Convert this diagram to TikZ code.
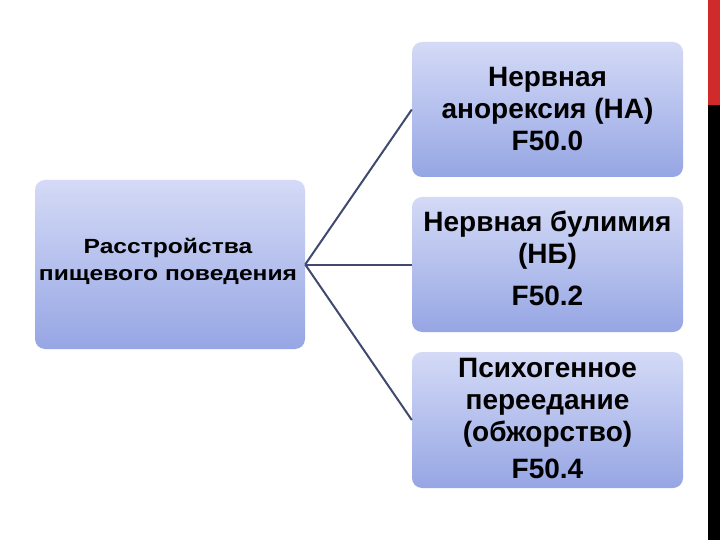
\documentclass[tikz,border=0pt]{standalone}
\usepackage{fontspec}
\setmainfont{Liberation Sans}
\newfontfamily\widefont[FakeStretch=1.2]{Liberation Sans}
\definecolor{boxtop}{RGB}{212,218,246}
\definecolor{boxbot}{RGB}{150,166,228}
\definecolor{linkc}{RGB}{64,74,110}
\definecolor{barred}{RGB}{208,42,42}
\tikzset{
  box/.style={rounded corners=10pt, top color=boxtop, bottom color=boxbot, draw=none,
    inner sep=0pt},
  lbl/.style={align=center, text=black, inner sep=0pt},
  big/.style={font=\bfseries\fontsize{28}{32}\selectfont},
  link/.style={draw=linkc, line width=2pt},
}
\begin{document}
\begin{tikzpicture}[x=1pt,y=-1pt]
\useasboundingbox (0,0) rectangle (720,540);
\fill[white] (0,0) rectangle (720,540);
\fill[barred] (708,0) rectangle (720,105);
\fill[black] (708,105) rectangle (720,540);
\node[box, minimum width=270pt, minimum height=169pt] (L) at (170,264.5) {};
\node[box, minimum width=271pt, minimum height=135pt] (A) at (547.5,109.5) {};
\node[box, minimum width=271pt, minimum height=135pt] (B) at (547.5,264.5) {};
\node[box, minimum width=271pt, minimum height=136pt] (C) at (547.5,420) {};
\node[lbl, font=\widefont\bfseries\fontsize{20.5}{27}\selectfont] (Lt) at (168,261) {Расстройства\\пищевого поведения};
\node[lbl, big] (At) at (547.5,109) {Нервная\\анорексия (НА)\\F50.0};
\node[lbl, big] (Bt) at (547.5,258.5) {Нервная булимия\\(НБ)\\[10pt]F50.2};
\node[lbl, big] (Ct) at (547.5,418.5) {Психогенное\\переедание\\(обжорство)\\[5pt]F50.4};
\draw[link] (L.east) -- (A.west);
\draw[link] (L.east) -- (B.west);
\draw[link] (L.east) -- (C.west);
\end{tikzpicture}
\end{document}
